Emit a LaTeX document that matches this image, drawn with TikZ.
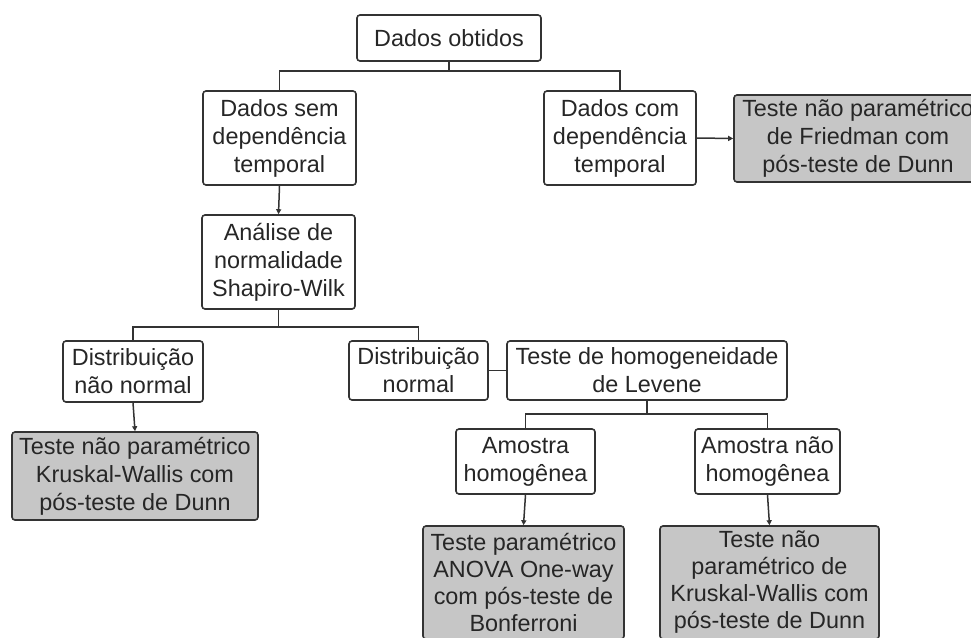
\documentclass[tikz,border=0pt]{standalone}
\usepackage{fontspec}
\setmainfont{Liberation Sans}
\usetikzlibrary{arrows.meta}
\definecolor{lc}{HTML}{333333}
\definecolor{gf}{HTML}{C6C6C6}
\begin{document}
\begin{tikzpicture}[x=1pt,y=-1pt,
  box/.style={draw=lc, line width=1.6pt, rounded corners=3pt, inner sep=0pt,
    align=center, font=\fontsize{23.4}{28}\selectfont, text=black!85},
  gbox/.style={box, fill=gf},
  tight/.style={font=\fontsize{23.4}{27}\selectfont},
  conn/.style={draw=lc, line width=1.5pt},
  arr/.style={conn, -{Triangle[length=5pt,width=5pt]}}]
\useasboundingbox (0,0) rectangle (971,637);
\clip (0,0) rectangle (971,637);
\fill[white] (0,0) rectangle (971,637);
% nodes
\node[box, minimum width=184pt, minimum height=46pt] (obt) at (449,38) {Dados obtidos};
\node[box, minimum width=153pt, minimum height=94pt] (sem) at (279.5,138) {Dados sem\\dependência\\temporal};
\node[box, minimum width=152pt, minimum height=94pt] (com) at (620,138) {Dados com\\dependência\\temporal};
\node[gbox, minimum width=248pt, minimum height=87pt] (fri) at (858,138.5) {Teste não paramétrico\\de Friedman com\\pós-teste de Dunn};
\node[box, minimum width=153pt, minimum height=94pt] (ana) at (278.5,262) {Análise de\\normalidade\\Shapiro-Wilk};
\node[box, minimum width=140pt, minimum height=61pt] (dnn) at (133,371.5) {Distribuição\\não normal};
\node[box, minimum width=139pt, minimum height=59pt] (dn) at (418.5,370.5) {Distribuição\\normal};
\node[box, minimum width=280pt, minimum height=59pt] (lev) at (647,370.5) {Teste de homogeneidade\\de Levene};
\node[gbox, minimum width=246pt, minimum height=88pt] (kw1) at (135,476) {Teste não paramétrico\\Kruskal-Wallis com\\pós-teste de Dunn};
\node[box, minimum width=139pt, minimum height=65pt] (ah) at (525.5,461.5) {Amostra\\homogênea};
\node[box, minimum width=145pt, minimum height=65pt] (anh) at (767.5,461.5) {Amostra não\\homogênea};
\node[gbox, tight, minimum width=201pt, minimum height=113pt] (ano) at (523.5,582.5) {Teste paramétrico\\ANOVA One-way\\com pós-teste de\\Bonferroni};
\node[gbox, tight, minimum width=219pt, minimum height=113pt] (kw2) at (769.5,582.5) {Teste não\\paramétrico de\\Kruskal-Wallis com\\pós-teste de Dunn};
% connectors
\coordinate (b1) at (449,71);
\draw[conn] (obt.south) -- (b1);
\draw[conn] (sem.north) |- (b1) -| (com.north);
\draw[arr] (com.east) -- (fri.west);
\draw[arr] (sem.south) -- (ana.north);
\coordinate (b2) at (278.5,327);
\draw[conn] (ana.south) -- (b2);
\draw[conn] (dnn.north) |- (b2) -| (dn.north);
\draw[arr] (dnn.south) -- (kw1.north);
\draw[conn] (dn.east) -- (lev.west);
\coordinate (b3) at (647,414);
\draw[conn] (lev.south) -- (b3);
\draw[conn] (ah.north) |- (b3) -| (anh.north);
\draw[arr] (ah.south) -- (ano.north);
\draw[arr] (anh.south) -- (kw2.north);
\end{tikzpicture}
\end{document}
